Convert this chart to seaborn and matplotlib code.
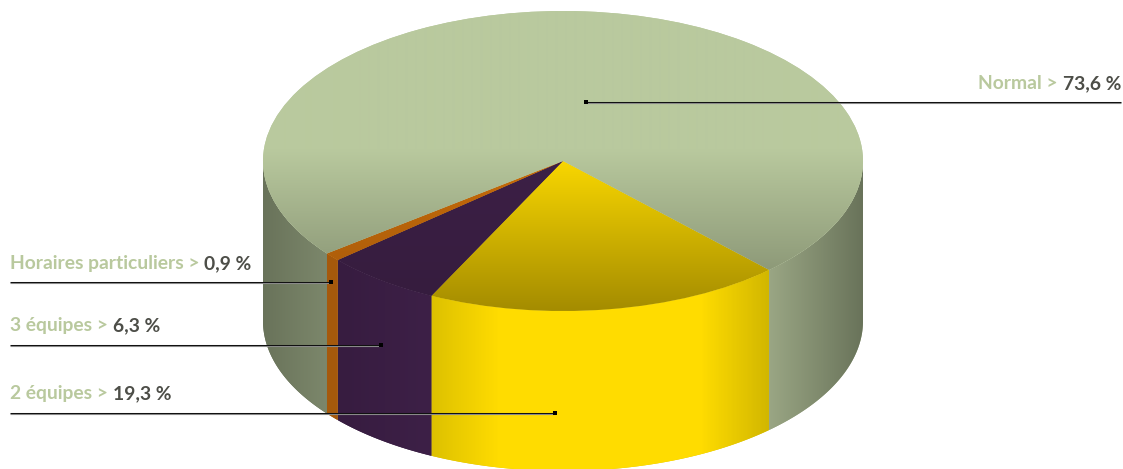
import numpy as np
import seaborn as sns
import matplotlib.pyplot as plt
from matplotlib.colors import to_rgb
from matplotlib.patches import Polygon

categories = ['2 équipes', '3 équipes', 'Horaires particuliers', 'Normal']
values = [19.3, 6.3, 0.9, 73.6]
value_labels = ['19,3 %', '6,3 %', '0,9 %', '73,6 %']

# top face colours: light, then dark at the front edge
top_light = ['#FFDC00', '#3D2047', '#C86C08', '#B9C99E']
top_dark = ['#A48C00', '#351C3D', '#A5590C', '#7F8A6C']
# rim gradients, left to right
side_colors = [
    ['#DDC100', '#FFDC00', '#FFDC00', '#FFDC00', '#FFDC00', '#D2B700'],
    ['#371C40', '#3D2047'],
    ['#A5590C', '#A5590C'],
    ['#9AA684', '#69735A'],
]
side_left_colors = ['#69735A', '#7C876B']

# leader lines in pixels: y, x start, x end, text baseline
leaders = [(413, 10, 555, 399), (345, 10, 381, 331), (282, 10, 331, 269), (102, 586, 1121, 89)]

W, H = 1123, 469
CX, CY, RX, RY, DEPTH = 563, 161, 300, 150, 160
START = -46.6
FS = 13.9

sns.set_theme(style='white')
plt.rcParams['font.family'] = ['Lato', 'Liberation Sans', 'DejaVu Sans']


def px(x):
    return (np.asarray(x, dtype=float) - CX) / RX


def py(y):
    return (CY - np.asarray(y, dtype=float)) / RY


def draw_side(a1, a2, colors):
    # a1 > a2, both in degrees on the lower half of the ellipse
    t = np.radians(np.linspace(a1, a2, 120))
    x, y = np.cos(t), np.sin(t)
    d = DEPTH / RY
    pts = np.r_[np.c_[x, y], np.c_[x[::-1], y[::-1] - d]]
    poly = Polygon(pts, closed=True, fc=colors[0], ec='none', zorder=1)
    ax.add_patch(poly)
    ramp = np.array(sns.blend_palette(colors, 256))[None, :, :]
    im = ax.imshow(ramp, extent=(x.min(), x.max(), -1 - d, 0.1), aspect='auto', zorder=1.1,
                   interpolation='nearest')
    im.set_clip_path(poly)


fig = plt.figure(figsize=(W / 100, H / 100), dpi=100)
ax = fig.add_axes([0, 0, 1, 1])

wedges, _ = ax.pie(values, startangle=START, counterclock=False, radius=1, colors=top_light,
                   wedgeprops={'linewidth': 0, 'zorder': 2})

# angles where the slices meet
cum = np.cumsum(values) / np.sum(values) * 360
ends = START - cum
starts = np.r_[START, ends[:-1]]

for i in range(3):
    draw_side(starts[i], ends[i], side_colors[i])
draw_side(ends[2], -180, side_left_colors)
draw_side(0, START, side_colors[3])

# top face shading
rows = np.arange(11, 312)
shade = np.interp(rows, [11, 150, 311], [0, 0, 1])[:, None, None]
for w, c1, c2 in zip(wedges, top_light, top_dark):
    grad = (1 - shade) * np.array(to_rgb(c1)) + shade * np.array(to_rgb(c2))
    im = ax.imshow(grad, extent=(-1, 1, -1, 1), aspect='auto', zorder=2.1, interpolation='bilinear')
    im.set_clip_path(w)

ax.set_aspect('auto')
ax.set_xlim(px(0), px(W))
ax.set_ylim(py(H), py(0))
ax.axis('off')

# leaders and labels
for (ly, x0, x1, base), name, val in zip(leaders, categories, value_labels):
    ax.plot(px([x0, x1]), py([ly + 0.6, ly + 0.6]), color='#8C8C8C', lw=0.8, zorder=3, solid_capstyle='butt')
    ax.plot(px([x0, x1]), py([ly, ly]), color='#111111', lw=0.75, zorder=3.1, solid_capstyle='butt')
    end = x1 if x0 == 10 else x0
    ax.plot(px(end), py(ly), 's', color='black', ms=2.6, mew=0, zorder=4)
    if x0 == 10:
        t = ax.text(px(10), py(base), name + ' > ', color='#B9C99E', fontsize=FS, fontweight='bold',
                    ha='left', va='baseline', zorder=5)
        ax.annotate(val, xy=(1, 0), xycoords=t, xytext=(0, 0), textcoords='offset points', color='#4D4E48',
                    fontsize=FS, fontweight='bold', ha='left', va='bottom', zorder=5)
    else:
        t = ax.text(px(1121), py(base), val, color='#4D4E48', fontsize=FS, fontweight='bold',
                    ha='right', va='baseline', zorder=5)
        ax.annotate(name + ' > ', xy=(0, 0), xycoords=t, xytext=(0, 0), textcoords='offset points', color='#B9C99E',
                    fontsize=FS, fontweight='bold', ha='right', va='bottom', zorder=5)

fig.savefig('out.png', dpi=100)
